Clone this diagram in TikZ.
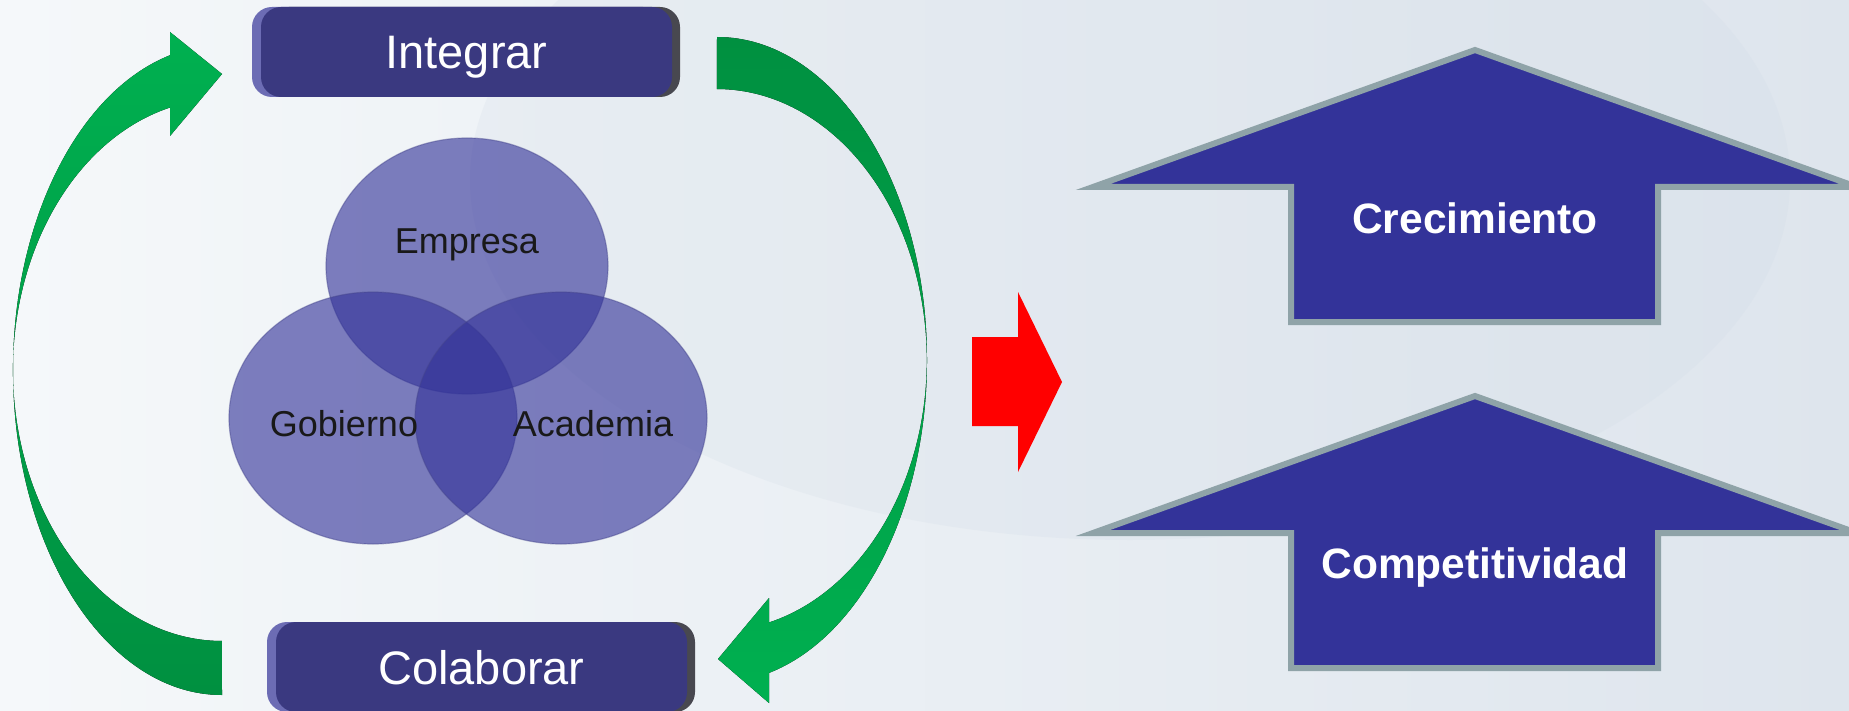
\documentclass[tikz,border=0pt]{standalone}
\usepackage{fontspec}
\setmainfont{Liberation Sans}
\usepackage{xcolor}
\usetikzlibrary{shadows}
\definecolor{bgleft}{RGB}{245,248,250}
\definecolor{bgright}{RGB}{222,229,237}
\definecolor{bgdark}{RGB}{205,216,228}
\definecolor{boxnavy}{RGB}{58,57,128}
\definecolor{boxedge}{RGB}{108,108,180}
\definecolor{boxgray}{RGB}{72,72,80}
\definecolor{vennblue}{RGB}{51,51,153}
\definecolor{vennrim}{RGB}{70,70,140}
\definecolor{arrownavy}{RGB}{51,51,153}
\definecolor{arrowrim}{RGB}{143,163,168}
\definecolor{greenlight}{RGB}{0,176,80}
\definecolor{greendark}{RGB}{0,144,64}

\begin{document}
\begin{tikzpicture}[x=1pt,y=-1pt,
	boxnode/.style={rounded corners=20pt, fill=boxnavy, text=white,
		font=\fontsize{47}{56}\selectfont, minimum width=411pt, minimum height=90pt,
		text height=34pt, text depth=0pt,
		copy shadow={shadow xshift=8pt, shadow yshift=0pt, fill=boxgray, draw=none},
		copy shadow={shadow xshift=-9pt, shadow yshift=0pt, fill=boxedge, draw=none}},
	vennfill/.style={fill=vennblue, fill opacity=.62, draw=vennrim, draw opacity=.45, line width=1.2pt},
	vennlabel/.style={text=black!90, font=\fontsize{36}{43}\selectfont, text height=26pt, text depth=0pt},
	growarrow/.style={fill=arrownavy, draw=arrowrim, line width=6pt},
	growlabel/.style={text=white, font=\bfseries\fontsize{42.5}{50}\selectfont, text height=30.5pt, text depth=0pt}]
	\newcommand\GrowShape{-- +(382,137) -- +(183,137) -- +(183,272) -- +(-184,272) -- +(-184,137) -- +(-382,137) -- cycle}

	\useasboundingbox (0,0) rectangle (1849,711);
	\clip (0,0) rectangle (1849,711);
	\fill[left color=bgleft, right color=bgright] (0,0) rectangle (1849,711);
	\fill[bgdark, opacity=.2] (1130,180) ellipse [x radius=660, y radius=360];

	\node[boxnode] (integrar) at (466.5,52) {Integrar};
	\node[boxnode] (colaborar) at (481.5,667) {Colaborar};

	\fill[top color=greenlight, bottom color=greendark] (222,695)
		arc[start angle=90, end angle=255.6, x radius=209, y radius=325]
		-- (170,32) -- (222,74) -- (170,136) -- (170,107.5)
		arc[start angle=255.6, end angle=90, x radius=209, y radius=271] -- cycle;
	\fill[top color=greendark, bottom color=greenlight] (717,37)
		arc[start angle=-90, end angle=75.6, x radius=210, y radius=323]
		-- (769,703) -- (718,659) -- (769,598) -- (769,622.5)
		arc[start angle=75.6, end angle=-90, x radius=210, y radius=271] -- cycle;

	\path[vennfill] (467,266) ellipse [x radius=141, y radius=128];
	\path[vennfill] (373,418) ellipse [x radius=144, y radius=126];
	\path[vennfill] (561,418) ellipse [x radius=146, y radius=126];
	\node[vennlabel] (empresa) at (467,241) {Empresa};
	\node[vennlabel] (gobierno) at (344,423) {Gobierno};
	\node[vennlabel] (academia) at (593,423) {Academia};

	\fill[red] (972,337) -- (1018,337) -- (1018,292) -- (1062,382) -- (1018,472) -- (1018,426) -- (972,426) -- cycle;

	\draw[growarrow] (1475,50) \GrowShape;
	\draw[growarrow] (1475,396) \GrowShape;
	\node[growlabel] (crecimiento) at (1475,218) {Crecimiento};
	\node[growlabel] (competitividad) at (1475,563) {Competitividad};
\end{tikzpicture}
\end{document}
